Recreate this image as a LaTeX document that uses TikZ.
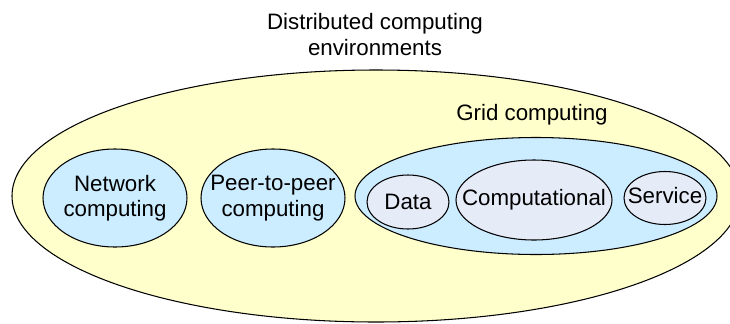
\documentclass[tikz,border=0pt]{standalone}
\usepackage{fontspec}
\setmainfont{Liberation Sans}
\usetikzlibrary{shapes,positioning}
\definecolor{envyellow}{HTML}{FFFFCC}
\definecolor{gridblue}{HTML}{CCECFF}
\definecolor{innerblue}{HTML}{E6EBF8}

\begin{document}
\begin{tikzpicture}[
        blob/.style={draw, ellipse, inner sep=0pt, line width=0.6pt},
        txt/.style={align=center, inner sep=0pt, font=\fontsize{12.7}{14.4}\selectfont}]
        \useasboundingbox (0,0) rectangle (14.6,-6.46);

        % outer set
        \node[blob, fill=envyellow, minimum width=14.56cm, minimum height=5.04cm] (env) at (7.52,-3.92) {};
        \node[txt] (envtext) at (7.5,-0.69) {Distributed computing\\environments};

        \node[blob, fill=gridblue, minimum width=2.88cm, minimum height=1.96cm] (net) at (2.3,-3.96) {};
        \node[txt] (nettext) at (net) {Network\\computing};
        \node[blob, fill=gridblue, minimum width=2.88cm, minimum height=1.96cm] (ptp) at (5.46,-3.96) {};
        \node[txt] (ptptext) at (ptp) {Peer-to-peer\\computing};

        % grid and its parts
        \node[blob, fill=gridblue, minimum width=7.24cm, minimum height=2.34cm] (grid) at (10.72,-3.92) {};
        \node[txt] (gridtext) at (10.64,-2.3) {Grid computing};
        \node[blob, fill=innerblue, minimum width=1.64cm, minimum height=1.08cm] (data) at (8.16,-4.04) {};
        \node[txt] (datatext) at (data) {Data};
        \node[blob, fill=innerblue, minimum width=3.12cm, minimum height=1.6cm] (comp) at (10.68,-4.0) {};
        \node[txt] (comptext) at (comp) {Computational};
        \node[blob, fill=innerblue, minimum width=1.64cm, minimum height=1.06cm] (serv) at (13.3,-3.96) {};
        \node[txt] (servtext) at ([yshift=0.04cm]serv.center) {Service};

    \end{tikzpicture}
\end{document}
